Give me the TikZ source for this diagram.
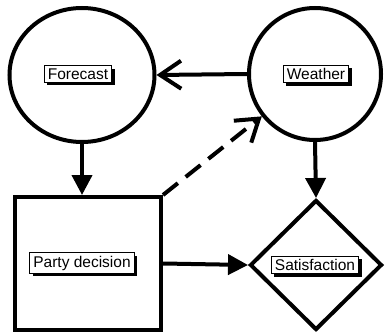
\documentclass[tikz,border=0pt]{standalone}
\usepackage{fontspec}
\setmainfont{Liberation Sans}
\usepackage{tikz}
\usetikzlibrary{shapes.geometric, arrows.meta, shadows}
\tikzstyle{chance} = [draw, line width=4pt, ellipse]
\tikzstyle{decision} = [draw, line width=4pt, rectangle, minimum width=146pt, minimum height=133pt]
\tikzstyle{utility} = [draw, line width=4pt, diamond, minimum width=132pt, minimum height=130pt]
\tikzstyle{tag} = [draw, fill=white, line width=0.9pt, inner xsep=3.5pt, inner ysep=3pt, font=\fontsize{15.5}{17}\selectfont, drop shadow={shadow xshift=3pt, shadow yshift=-3pt, fill=black, opacity=1}]
\tikzstyle{arrow} = [line width=4pt, -{Triangle[length=20pt, width=20pt]}]
\tikzstyle{openarrow} = [line width=4pt, -{Straight Barb[length=21pt, width=28pt, line width=4pt]}]

\begin{document}
\begin{tikzpicture}[x=1pt, y=-1pt]
			\useasboundingbox (0,0) rectangle (385,334);
			%chance nodes
			\node[chance, minimum width=145pt, minimum height=134pt] (forecast) at (82,75) {};
			\node[chance, minimum width=132pt, minimum height=132pt] (weather) at (315,74) {};
			%decision and utility
			\node[decision] (party) at (88,263.5) {};
			\node[utility] (satisf) at (316,265) {};
			
			\node[tag] (forecast-lbl) at (78,74) {Forecast};
			\node[tag] (weather-lbl) at (316,74) {Weather};
			\node[tag] (party-lbl) at (82,263) {Party decision};
			\node[tag] (satisf-lbl) at (315,265) {Satisfaction};
			
			\draw[openarrow] (weather.west) -- (forecast.east);
			\draw[arrow] (forecast.south) -- (forecast.south |- party.north);
			\draw[arrow] (weather.south) -- (satisf.north);
			\draw[arrow] (party.east) -- (satisf.west);
			\draw[openarrow, dash pattern=on 19pt off 10pt] (party.north east) -- (weather);
			
		\end{tikzpicture}
\end{document}
